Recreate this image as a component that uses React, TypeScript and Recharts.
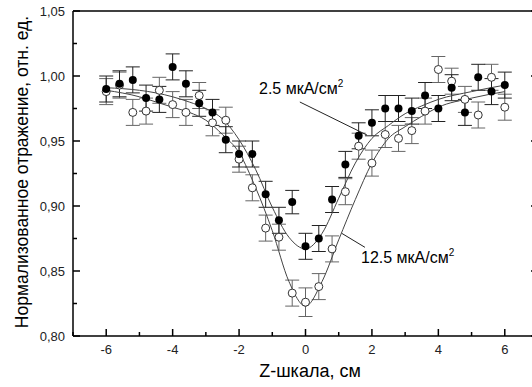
import React from 'react';
import {
  ComposedChart, Scatter, Line, XAxis, YAxis, ErrorBar, ReferenceLine,
} from 'recharts';

// positions along Z, cm
const zX = [-6, -5.6, -5.2, -4.8, -4.4, -4, -3.6, -3.2, -2.8, -2.4, -2, -1.6, -1.2, -0.8, -0.4, 0,
  0.4, 0.8, 1.2, 1.6, 2, 2.4, 2.8, 3.2, 3.6, 4, 4.4, 4.8, 5.2, 5.6, 6];

// 2.5 мкА/см2 (filled)
const refl25 = [0.990, 0.994, 0.997, 0.983, 0.982, 1.007, 0.994, 0.979, 0.972, 0.951, 0.940, 0.940,
  0.909, 0.889, 0.903, 0.869, 0.875, 0.905, 0.932, 0.954, 0.964, 0.975, 0.975, 0.973, 0.985, 0.975,
  0.991, 0.972, 0.999, 0.988, 0.993];
const err25 = [0.010, 0.010, 0.010, 0.010, 0.010, 0.010, 0.010, 0.010, 0.010, 0.010, 0.010, 0.010,
  0.010, 0.010, 0.009, 0.010, 0.010, 0.010, 0.010, 0.010, 0.010, 0.010, 0.010, 0.010, 0.010, 0.010,
  0.010, 0.010, 0.010, 0.010, 0.010];

// 12.5 мкА/см2 (open)
const refl125 = [0.988, 0.993, 0.972, 0.973, 0.989, 0.978, 0.972, 0.985, 0.964, 0.966, 0.936, 0.914,
  0.883, 0.876, 0.833, 0.826, 0.838, 0.867, 0.911, 0.946, 0.933, 0.955, 0.952, 0.958, 0.973, 1.005,
  0.996, 0.982, 0.970, 0.999, 0.976];
const err125 = [0.010, 0.010, 0.010, 0.010, 0.010, 0.010, 0.010, 0.010, 0.010, 0.010, 0.010, 0.010,
  0.010, 0.010, 0.010, 0.011, 0.010, 0.010, 0.010, 0.010, 0.010, 0.010, 0.010, 0.010, 0.010, 0.010,
  0.010, 0.010, 0.010, 0.010, 0.010];

// fitted curves
const fitX = [-6, -5, -4.5, -4, -3.5, -3, -2.5, -2, -1.5, -1, -0.5, 0, 0.5, 1, 1.5, 2, 2.5, 3, 3.5, 4, 5, 6];
const fit25 = [0.991, 0.989, 0.987, 0.984, 0.980, 0.975, 0.967, 0.951, 0.928, 0.899, 0.876, 0.867,
  0.879, 0.906, 0.933, 0.952, 0.962, 0.971, 0.977, 0.982, 0.988, 0.993];
const fit125 = [0.989, 0.984, 0.980, 0.976, 0.972, 0.966, 0.955, 0.941, 0.914, 0.881, 0.842, 0.823,
  0.842, 0.874, 0.905, 0.933, 0.952, 0.961, 0.969, 0.976, 0.983, 0.988];

const xTicks = [-7, -6, -5, -4, -3, -2, -1, 0, 1, 2, 3, 4, 5, 6, 7];
const yTicks = [0.8, 0.825, 0.85, 0.875, 0.9, 0.925, 0.95, 0.975, 1.0, 1.025, 1.05];

const pts25 = zX.map((x, i) => ({ x, y: refl25[i], e: err25[i] }));
const pts125 = zX.map((x, i) => ({ x, y: refl125[i], e: err125[i] }));
const curve25 = fitX.map((x, i) => ({ x, y: fit25[i] }));
const curve125 = fitX.map((x, i) => ({ x, y: fit125[i] }));

const FONT = '"Liberation Sans", Arial, sans-serif';
const isMajorX = (v: number) => Math.abs(v) % 2 === 0;
const isMajorY = (v: number) => Math.round(v * 1000) % 50 === 0;

const BottomTick = ({ x, y, payload }: any) => {
  const major = isMajorX(payload.value);
  return (
    <g>
      <line x1={x} x2={x} y1={y} y2={y - (major ? 7 : 4)} stroke="#000" strokeWidth={1.5} />
      {major && (
        <text x={x} y={y + 18} textAnchor="middle" fontSize={13} fontFamily={FONT} fill="#222">
          {payload.value}
        </text>
      )}
    </g>
  );
};

const TopTick = ({ x, y, payload }: any) => (
  <line x1={x} x2={x} y1={y} y2={y + (isMajorX(payload.value) ? 7 : 4)} stroke="#000" strokeWidth={1.5} />
);

const LeftTick = ({ x, y, payload }: any) => {
  const major = isMajorY(payload.value);
  return (
    <g>
      <line x1={x} x2={x + (major ? 7 : 4)} y1={y} y2={y} stroke="#000" strokeWidth={1.5} />
      {major && (
        <text x={x - 8} y={y + 4.5} textAnchor="end" fontSize={13} fontFamily={FONT} fill="#222">
          {payload.value.toFixed(2).replace('.', ',')}
        </text>
      )}
    </g>
  );
};

const RightTick = ({ x, y, payload }: any) => (
  <line x1={x} x2={x - (isMajorY(payload.value) ? 7 : 4)} y1={y} y2={y} stroke="#000" strokeWidth={1.5} />
);

const FilledDot = (p: any) => <circle cx={p.cx} cy={p.cy} r={4} fill="#000" />;
const OpenDot = (p: any) => <circle cx={p.cx} cy={p.cy} r={4} fill="#fff" stroke="#333" strokeWidth={1} />;

export default function App() {
  return (
    <div style={{ position: 'absolute', left: 0, top: 0, width: 532, height: 387, overflow: 'hidden', background: '#fff' }}>
      <ComposedChart width={545} height={387} margin={{ top: 10, right: 6, bottom: 50, left: 72 }}>
        <XAxis dataKey="x" type="number" domain={[-7, 7]} ticks={xTicks} allowDataOverflow
          height={1} tickSize={0} tickMargin={0} tick={<BottomTick />} interval={0}
          axisLine={{ stroke: '#000', strokeWidth: 1.5 }} />
        <XAxis xAxisId="top" orientation="top" type="number" domain={[-7, 7]} ticks={xTicks} allowDataOverflow
          height={1} tickSize={0} tickMargin={0} tick={<TopTick />} interval={0}
          axisLine={{ stroke: '#000', strokeWidth: 1.5 }} />
        <YAxis dataKey="y" type="number" domain={[0.8, 1.05]} ticks={yTicks} allowDataOverflow
          width={1} tickSize={0} tickMargin={0} tick={<LeftTick />} interval={0}
          axisLine={{ stroke: '#000', strokeWidth: 1.5 }} />
        <YAxis yAxisId="right" orientation="right" type="number" domain={[0.8, 1.05]} ticks={yTicks} allowDataOverflow
          width={1} tickSize={0} tickMargin={0} tick={<RightTick />} interval={0}
          axisLine={{ stroke: '#000', strokeWidth: 1.5 }} />

        <Scatter data={pts125} dataKey="y" shape={OpenDot} isAnimationActive={false}>
          <ErrorBar dataKey="e" direction="y" width={7} stroke="#666" strokeWidth={1} isAnimationActive={false} />
        </Scatter>
        <Scatter data={pts25} dataKey="y" shape={FilledDot} isAnimationActive={false}>
          <ErrorBar dataKey="e" direction="y" width={7} stroke="#222" strokeWidth={1} isAnimationActive={false} />
        </Scatter>

        <Line data={curve25} dataKey="y" type="monotone" dot={false} stroke="#444" strokeWidth={1} isAnimationActive={false} />
        <Line data={curve125} dataKey="y" type="monotone" dot={false} stroke="#444" strokeWidth={1} isAnimationActive={false} />

        <ReferenceLine segment={[{ x: -0.17, y: 0.980 }, { x: 1.85, y: 0.9546 }]} stroke="#222" strokeWidth={1} />
        <ReferenceLine segment={[{ x: 1.09, y: 0.879 }, { x: 1.79, y: 0.8682 }]} stroke="#222" strokeWidth={1} />
      </ComposedChart>

      <svg width={532} height={387} style={{ position: 'absolute', left: 0, top: 0, pointerEvents: 'none' }}>
        <text x={259} y={94} fontSize={16} fontFamily={FONT} fill="#000">
          2.5 мкА/см<tspan fontSize={10} dy={-7}>2</tspan>
        </text>
        <text x={361} y={263} fontSize={16} fontFamily={FONT} fill="#000">
          12.5 мкА/см<tspan fontSize={10} dy={-7}>2</tspan>
        </text>
        <text x={310} y={377} textAnchor="middle" fontSize={18} fontFamily={FONT} fill="#000">
          Z-шкала, см
        </text>
        <text transform="translate(28,172) rotate(-90)" textAnchor="middle" fontSize={17.5} fontFamily={FONT} fill="#000">
          Нормализованное отражение, отн. ед.
        </text>
      </svg>
    </div>
  );
}
